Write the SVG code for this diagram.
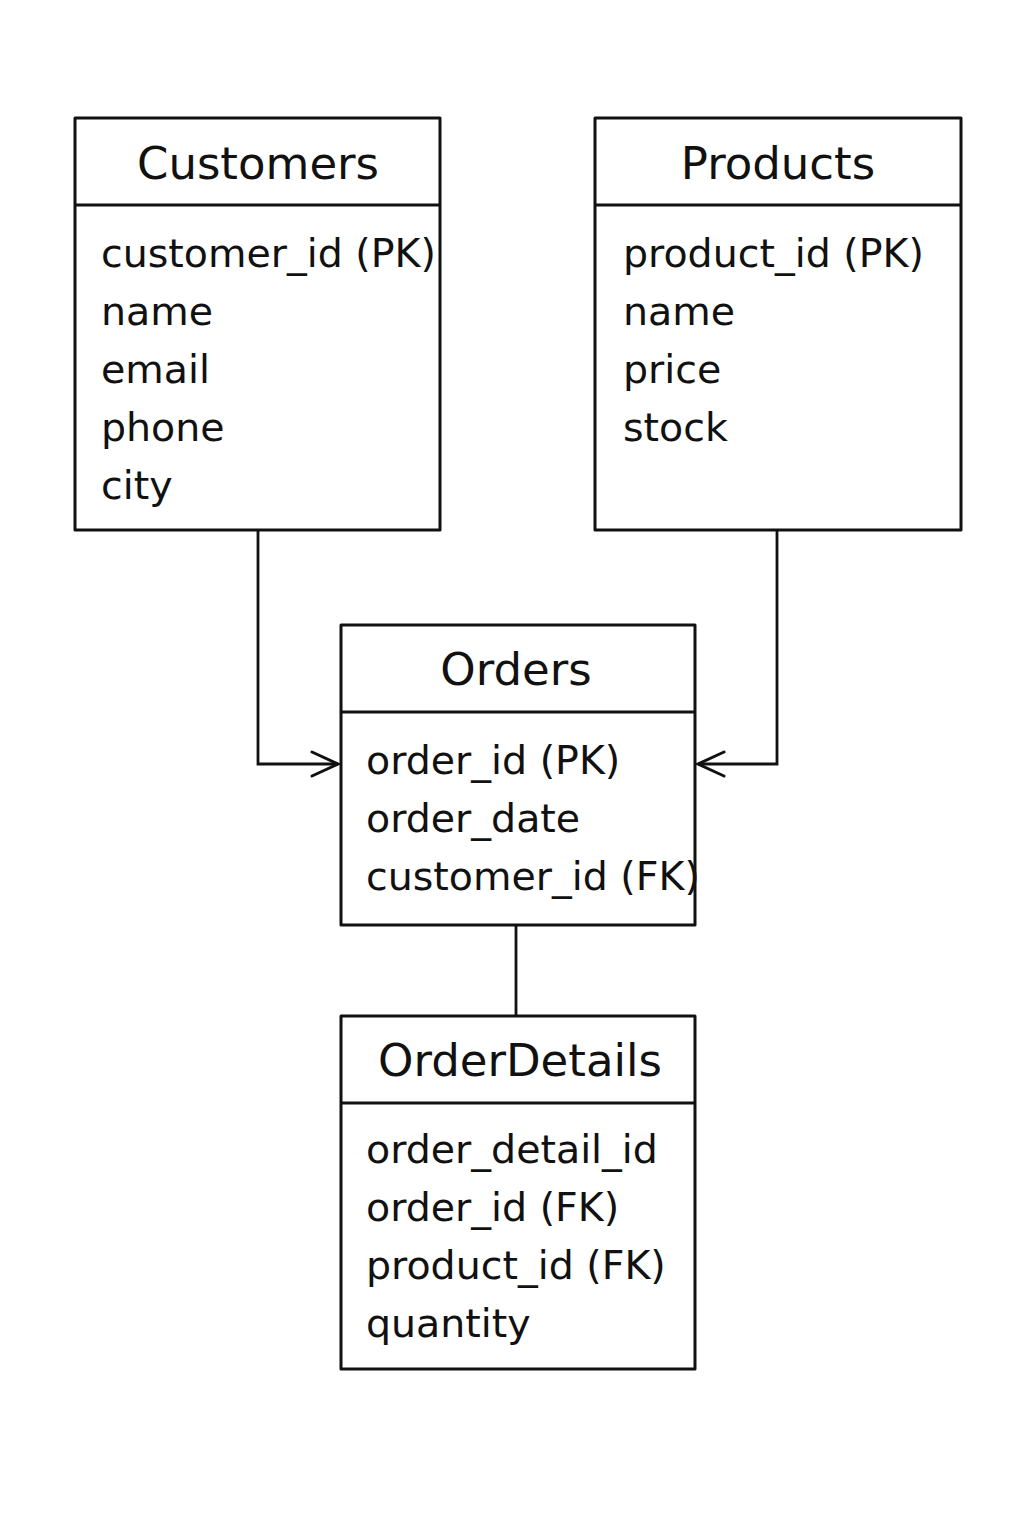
<svg xmlns="http://www.w3.org/2000/svg" width="1024" height="1536" viewBox="0 0 1024 1536">
<style>
.box{fill:#fff;stroke:#111;stroke-width:3;stroke-linejoin:round}
.sep{stroke:#111;stroke-width:3}
.title{font-family:"DejaVu Sans",sans-serif;font-size:45px;fill:#111;text-anchor:middle}
.row{font-family:"DejaVu Sans",sans-serif;font-size:39.5px;fill:#111}
.conn{fill:none;stroke:#111;stroke-width:2.8}
</style>
<defs>
<marker id="open" markerWidth="34" markerHeight="34" refX="28" refY="14" orient="auto" markerUnits="userSpaceOnUse">
<path d="M2,2 L28,14 L2,26" fill="none" stroke="#111" stroke-width="3" stroke-linecap="round"/>
</marker>
</defs>
<rect width="1024" height="1536" fill="#fff"/>
<g id="connectors">
<path class="conn" d="M258,530 L258,764 L338,764" marker-end="url(#open)"/>
<path class="conn" d="M777,530 L777,764 L698,764" marker-end="url(#open)"/>
<path class="conn" d="M516,925 L516,1016"/>
</g>
<g id="customers">
<rect class="box" x="75" y="118" width="365" height="412"/>
<line class="sep" x1="75" y1="205" x2="440" y2="205"/>
<text class="title" x="258" y="179">Customers</text>
<text class="row" x="101" y="267">customer_id (PK)</text>
<text class="row" x="101" y="325">name</text>
<text class="row" x="101" y="383">email</text>
<text class="row" x="101" y="441">phone</text>
<text class="row" x="101" y="499">city</text>
</g>
<g id="products">
<rect class="box" x="595" y="118" width="366" height="412"/>
<line class="sep" x1="595" y1="205" x2="961" y2="205"/>
<text class="title" x="778" y="179">Products</text>
<text class="row" x="623" y="267">product_id (PK)</text>
<text class="row" x="623" y="325">name</text>
<text class="row" x="623" y="383">price</text>
<text class="row" x="623" y="441">stock</text>
</g>
<g id="orders">
<rect class="box" x="341" y="625" width="354" height="300"/>
<line class="sep" x1="341" y1="712" x2="695" y2="712"/>
<text class="title" x="516" y="685">Orders</text>
<text class="row" x="366" y="774">order_id (PK)</text>
<text class="row" x="366" y="832">order_date</text>
<text class="row" x="366" y="890">customer_id (FK)</text>
</g>
<g id="orderdetails">
<rect class="box" x="341" y="1016" width="354" height="353"/>
<line class="sep" x1="341" y1="1103" x2="695" y2="1103"/>
<text class="title" x="520" y="1076">OrderDetails</text>
<text class="row" x="366" y="1163">order_detail_id</text>
<text class="row" x="366" y="1221">order_id (FK)</text>
<text class="row" x="366" y="1279">product_id (FK)</text>
<text class="row" x="366" y="1337">quantity</text>
</g>
</svg>
